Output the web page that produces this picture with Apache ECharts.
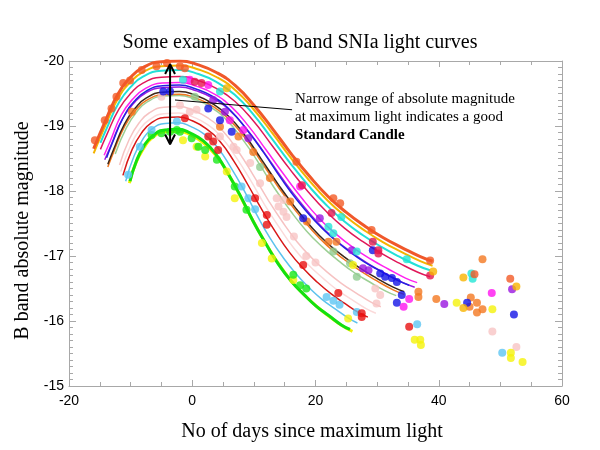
<!DOCTYPE html>
<html>
<head>
<meta charset="utf-8">
<script src="https://cdn.jsdelivr.net/npm/echarts@6/dist/echarts.min.js"></script>
<style>
html,body{margin:0;padding:0;background:#fff;}
#chart{width:600px;height:450px;}
</style>
</head>
<body>
<div id="chart"></div>
<script>
// ---- Axis ticks ----
const xTicks = [-20, 0, 20, 40, 60];
const yTicks = [-20, -19, -18, -17, -16, -15];

// ---- Fitted light curves [day, magnitude] ----
const curveOrangeRed = [[-16,-18.65],[-14,-19.1],[-12,-19.5],[-10,-19.75],[-8,-19.9],[-5,-19.99],[-2,-20],[1,-19.94],[4,-19.82],[7,-19.62],[10,-19.32],[13,-18.96],[16,-18.58],[19,-18.23],[22,-17.92],[25,-17.67],[28,-17.46],[31,-17.28],[34,-17.13],[37,-16.99],[39,-16.92]];
const curveGold = [[-16,-18.58],[-14,-19.03],[-12,-19.43],[-10,-19.68],[-8,-19.83],[-5,-19.92],[-2,-19.93],[1,-19.87],[4,-19.75],[7,-19.55],[10,-19.25],[13,-18.89],[16,-18.51],[19,-18.16],[22,-17.85],[25,-17.6],[28,-17.39],[31,-17.21],[34,-17.06],[37,-16.92],[39,-16.85]];
const curveCyan = [[-14.9,-18.74],[-13.9,-18.96],[-11.9,-19.36],[-9.9,-19.61],[-8,-19.76],[-5,-19.85],[-2,-19.86],[1,-19.8],[3.9,-19.68],[6.9,-19.48],[9.9,-19.18],[12.8,-18.82],[15.8,-18.44],[18.8,-18.09],[21.8,-17.78],[24.7,-17.53],[27.7,-17.32],[30.7,-17.14],[33.6,-16.99],[36.6,-16.85],[38.6,-16.78]];
const curveCrimson = [[-14.9,-18.64],[-13.9,-18.86],[-11.9,-19.26],[-9.9,-19.51],[-8,-19.66],[-5,-19.75],[-2,-19.76],[1,-19.7],[3.9,-19.58],[6.9,-19.38],[9.9,-19.08],[12.8,-18.72],[15.8,-18.34],[18.8,-17.99],[21.8,-17.68],[24.7,-17.43],[27.7,-17.22],[30.7,-17.04],[33.6,-16.89],[36.6,-16.75],[38.6,-16.68]];
const curveMagenta = [[-14.3,-18.55],[-13.3,-18.77],[-11.5,-19.17],[-9.6,-19.42],[-7.7,-19.57],[-4.9,-19.66],[-2.1,-19.67],[0.8,-19.61],[3.6,-19.49],[6.4,-19.29],[9.2,-18.99],[12,-18.63],[14.9,-18.25],[17.7,-17.9],[20.5,-17.59],[23.3,-17.34],[26.1,-17.13],[29,-16.95],[31.8,-16.8],[34.6,-16.66],[36.5,-16.59]];
const curveBlue = [[-13.9,-18.51],[-13,-18.73],[-11.2,-19.13],[-9.4,-19.38],[-7.6,-19.53],[-4.8,-19.62],[-2.1,-19.63],[0.6,-19.57],[3.4,-19.45],[6.1,-19.25],[8.8,-18.95],[11.6,-18.59],[14.3,-18.21],[17,-17.86],[19.8,-17.55],[22.5,-17.3],[25.2,-17.09],[27.9,-16.91],[30.7,-16.76],[33.4,-16.62],[35.2,-16.55]];
const curvePurple = [[-14.2,-18.48],[-13.2,-18.7],[-11.4,-19.1],[-9.5,-19.35],[-7.7,-19.5],[-4.9,-19.59],[-2.1,-19.6],[0.7,-19.54],[3.5,-19.42],[6.3,-19.22],[9.1,-18.92],[11.9,-18.56],[14.7,-18.18],[17.5,-17.83],[20.3,-17.52],[23,-17.27],[25.8,-17.06],[28.6,-16.88],[31.4,-16.73],[34.2,-16.59],[36.1,-16.52]];
const curveDark = [[-13.7,-18.41],[-12.8,-18.63],[-11,-19.03],[-9.2,-19.28],[-7.5,-19.43],[-4.8,-19.52],[-2.1,-19.53],[0.6,-19.47],[3.2,-19.35],[5.9,-19.15],[8.6,-18.85],[11.2,-18.49],[13.9,-18.11],[16.6,-17.76],[19.3,-17.45],[21.9,-17.2],[24.6,-16.99],[27.3,-16.81],[29.9,-16.66],[32.6,-16.52],[34.4,-16.45]];
const curveOrange = [[-13.7,-18.37],[-12.8,-18.59],[-11,-18.99],[-9.2,-19.24],[-7.5,-19.39],[-4.8,-19.48],[-2.1,-19.49],[0.6,-19.43],[3.2,-19.31],[5.9,-19.11],[8.6,-18.81],[11.2,-18.45],[13.9,-18.07],[16.6,-17.72],[19.3,-17.41],[21.9,-17.16],[24.6,-16.95],[27.3,-16.77],[29.9,-16.62],[32.6,-16.48],[34.4,-16.41]];
const curvePaleGreen = [[-12.5,-18.57],[-10.7,-18.97],[-9,-19.22],[-7.3,-19.37],[-4.7,-19.46],[-2.1,-19.47],[0.4,-19.41],[3,-19.29],[5.6,-19.09],[8.2,-18.79],[10.8,-18.43],[13.3,-18.05],[15.9,-17.7],[18.5,-17.39],[21.1,-17.14],[23.7,-16.93],[26.2,-16.75],[28.8,-16.6],[31.4,-16.46],[33.1,-16.39]];
const curvePink = [[-11.8,-18.4],[-10.2,-18.8],[-8.6,-19.05],[-7,-19.2],[-4.6,-19.29],[-2.2,-19.3],[0.2,-19.24],[2.6,-19.12],[5,-18.92],[7.4,-18.62],[9.8,-18.26],[12.2,-17.88],[14.6,-17.53],[17,-17.22],[19.4,-16.97],[21.8,-16.76],[24.2,-16.58],[26.6,-16.43],[29,-16.29],[30.6,-16.22]];
const curvePaleRose = [[-11.6,-18.3],[-10,-18.7],[-8.5,-18.95],[-6.9,-19.1],[-4.6,-19.19],[-2.2,-19.2],[0.1,-19.14],[2.5,-19.02],[4.8,-18.82],[7.1,-18.52],[9.5,-18.16],[11.8,-17.78],[14.2,-17.43],[16.5,-17.12],[18.8,-16.87],[21.2,-16.66],[23.5,-16.48],[25.9,-16.33],[28.2,-16.19],[29.8,-16.12]];
const curveRed = [[-11.25,-18.24],[-9.75,-18.64],[-8.25,-18.89],[-6.75,-19.04],[-4.5,-19.13],[-2.25,-19.14],[0,-19.08],[2.25,-18.96],[4.5,-18.76],[6.75,-18.46],[9,-18.1],[11.25,-17.72],[13.5,-17.37],[15.75,-17.06],[18,-16.81],[20.25,-16.6],[22.5,-16.42],[24.75,-16.27],[27,-16.13],[28.5,-16.06]];
const curveSky = [[-10.8,-18.15],[-9.4,-18.55],[-8,-18.8],[-6.6,-18.95],[-4.4,-19.04],[-2.3,-19.05],[-0.2,-18.99],[2,-18.87],[4.1,-18.67],[6.2,-18.37],[8.4,-18.01],[10.5,-17.63],[12.6,-17.28],[14.8,-16.97],[16.9,-16.72],[19,-16.51],[21.1,-16.33],[23.3,-16.18],[25.4,-16.04],[26.8,-15.97]];
const curveYellow = [[-10.2,-18.12],[-9.2,-18.42],[-7.8,-18.67],[-6.5,-18.82],[-4.4,-18.91],[-2.3,-18.92],[-0.2,-18.86],[1.8,-18.74],[3.9,-18.54],[6,-18.24],[8,-17.88],[10.1,-17.5],[12.2,-17.15],[14.3,-16.84],[16.3,-16.59],[18.4,-16.38],[20.5,-16.2],[22.5,-16.05],[24.6,-15.91],[26,-15.84]];
const curveGreen = [[-10.1,-18.15],[-9.1,-18.45],[-7.8,-18.7],[-6.4,-18.85],[-4.4,-18.94],[-2.3,-18.95],[-0.3,-18.89],[1.8,-18.77],[3.8,-18.57],[5.8,-18.27],[7.9,-17.91],[9.9,-17.53],[12,-17.18],[14,-16.87],[16,-16.62],[18.1,-16.41],[20.1,-16.23],[22.2,-16.08],[24.2,-15.94],[25.6,-15.87]];

// ---- Observed points [day, magnitude] ----
const dotsOrangeRed = [[-15.8,-18.78],[-14.2,-19.09],[-13.1,-19.27],[-12.3,-19.45],[-11.2,-19.66],[-10.1,-19.7],[-8.2,-19.86],[-5.8,-19.92],[-4.1,-19.97],[-2.0,-19.92],[-1.2,-19.89],[16.9,-18.45],[22.9,-17.89],[24.0,-17.81],[29.1,-17.4],[38.6,-16.93],[45.8,-16.72],[51.6,-16.65]];
const dotsGold = [[5.6,-19.58],[39.1,-16.76],[44.0,-16.67],[52.6,-16.53],[44.0,-16.2]];
const dotsCyan = [[-1.5,-19.71],[4.5,-19.53],[22.1,-17.45],[22.9,-17.35],[24.2,-17.6],[26.7,-17.07],[34.8,-16.95],[45.3,-16.73],[45.5,-16.65]];
const dotsCrimson = [[0.4,-19.68],[1.5,-19.66],[17.8,-18.09],[22.6,-17.66],[29.3,-17.22],[30.2,-17.09],[30.2,-17.04],[38.6,-16.7]];
const dotsMagenta = [[-0.4,-19.71],[2.6,-19.63],[6.1,-19.09],[8.3,-18.94],[17.5,-18.07],[35.2,-16.34],[34.3,-16.22],[48.6,-16.43]];
const dotsBlue = [[-4.7,-19.53],[-3.6,-19.53],[2.6,-19.27],[4.5,-19.09],[6.4,-18.91],[18.0,-17.58],[29.3,-17.09],[30.5,-16.73],[31.3,-16.68],[32.4,-16.66],[33.2,-16.6],[34.0,-16.4],[33.2,-16.28],[44.6,-16.28],[52.2,-16.1]];
const dotsPurple = [[3.4,-19.4],[5.3,-19.22],[9.1,-18.81],[20.7,-17.58],[25.9,-17.09],[27.7,-16.81],[28.6,-16.78],[40.9,-16.26],[51.9,-16.49]];
const dotsOrange = [[-9.8,-19.22],[4.5,-18.99],[7.5,-18.84],[9.9,-18.6],[12.6,-18.2],[15.9,-17.84],[18.6,-17.53],[22.1,-17.22],[23.4,-17.22],[36.7,-16.45],[36.7,-16.37],[39.6,-16.34],[47.1,-16.95],[45.2,-16.36],[46.2,-16.28],[45.0,-16.22],[46.2,-16.13],[47.1,-16.18]];
const dotsPaleGreen = [[0.4,-19.45],[11.0,-18.37],[22.9,-17.07],[25.6,-16.89],[26.7,-16.68]];
const dotsPink = [[-5.0,-19.45],[-2.0,-19.32],[-0.4,-19.22],[0.7,-19.25],[4.5,-18.84],[6.7,-18.68],[7.2,-18.63],[9.4,-18.43],[11.0,-18.12],[13.7,-17.89],[14.8,-17.86],[14.8,-17.68],[14.0,-17.76],[15.3,-17.6],[16.5,-17.3],[18.5,-17.0],[20.0,-16.9],[29.7,-16.5],[30.5,-16.4],[29.9,-16.27],[48.7,-15.84],[52.6,-15.6]];
const dotsRed = [[-1.2,-19.12],[2.6,-18.84],[3.4,-18.76],[4.2,-18.63],[10.2,-17.89],[12.1,-17.63],[12.1,-17.48],[18.0,-16.86],[23.7,-16.43],[27.5,-16.12],[27.5,-16.06],[35.2,-15.91]];
const dotsSky = [[-10.4,-18.25],[-8.5,-18.68],[-6.6,-18.94],[-2.5,-19.07],[8.0,-18.07],[9.1,-17.89],[10.2,-17.72],[21.8,-16.37],[22.9,-16.31],[23.9,-16.25],[26.7,-16.14],[36.5,-15.95],[50.3,-15.51]];
const dotsGreen = [[-6.6,-18.86],[-5.0,-18.89],[-3.6,-18.91],[-2.5,-18.94],[-2.0,-18.91],[-0.1,-18.81],[1.0,-18.68],[2.1,-18.63],[4.0,-18.48],[6.9,-18.07],[8.8,-17.71],[16.4,-16.71],[17.5,-16.55],[18.5,-16.5]];
const dotsYellow = [[-1.5,-18.78],[0.7,-18.68],[2.1,-18.53],[5.6,-18.3],[6.9,-17.89],[11.3,-17.2],[12.9,-16.96],[16.4,-16.63],[25.3,-16.04],[26.1,-16.86],[36.1,-15.71],[37.0,-15.71],[37.1,-15.63],[42.9,-16.28],[48.7,-16.18],[51.7,-15.51],[51.7,-15.43],[53.6,-15.37]];

// ---- Annotation geometry (data coordinates) ----
const arrowShaft = [[-3.6,-19.95],[-3.6,-18.72]];
const arrowHeadTop = [[-4.4,-19.8],[-3.6,-19.95],[-2.8,-19.8]];
const arrowHeadBottom = [[-4.4,-18.87],[-3.6,-18.72],[-2.8,-18.87]];
const pointerLine = [[-2.8,-19.4],[16.2,-19.25]];

// ---- Styling table ----
const curves = [
  {d: curvePaleRose, c: '#fbdada', w: 1.5},
  {d: curvePink, c: '#f6c2c2', w: 1.5},
  {d: curvePaleGreen, c: '#9ccf94', w: 1.5},
  {d: curveYellow, c: '#f2f000', w: 3},
  {d: curveGreen, c: '#12e012', w: 3},
  {d: curveSky, c: '#5cc2ee', w: 1.5},
  {d: curveRed, c: '#d81818', w: 1.5},
  {d: curveOrange, c: '#f07820', w: 1.5},
  {d: curveDark, c: '#3c2618', w: 1.5},
  {d: curvePurple, c: '#9a18e0', w: 1.5},
  {d: curveBlue, c: '#2424e0', w: 1.5},
  {d: curveMagenta, c: '#ff20f0', w: 1.5},
  {d: curveCrimson, c: '#e0185a', w: 1.5},
  {d: curveCyan, c: '#22e0d8', w: 2},
  {d: curveGold, c: '#f4b400', w: 2},
  {d: curveOrangeRed, c: '#f0582a', w: 3}
];
const dots = [
  {d: dotsPink, c: '#f8c4c4'},
  {d: dotsPaleGreen, c: '#90cc90'},
  {d: dotsYellow, c: '#f5f20a'},
  {d: dotsGreen, c: '#18e818'},
  {d: dotsSky, c: '#5ec6f2'},
  {d: dotsRed, c: '#e81010'},
  {d: dotsOrange, c: '#f47820'},
  {d: dotsPurple, c: '#9a16e0'},
  {d: dotsBlue, c: '#1414e6'},
  {d: dotsMagenta, c: '#ff14f0'},
  {d: dotsCrimson, c: '#e5164e'},
  {d: dotsCyan, c: '#22e6d6'},
  {d: dotsGold, c: '#f8b400'},
  {d: dotsOrangeRed, c: '#f25a26'}
];

const axisGray = '#a8a8a8';
const sans = '"Liberation Sans", Arial, sans-serif';
const serif = '"Liberation Serif", "Times New Roman", serif';

const series = [];
curves.forEach(function (k) {
  series.push({type: 'line', data: k.d, smooth: true, showSymbol: false, silent: true,
    lineStyle: {color: k.c, width: k.w}, z: 2});
});
dots.forEach(function (k) {
  series.push({type: 'scatter', data: k.d, symbol: 'circle', symbolSize: 8,
    itemStyle: {color: k.c}, z: 3});
});
[arrowShaft, arrowHeadTop, arrowHeadBottom].forEach(function (a) {
  series.push({type: 'line', data: a, showSymbol: false, silent: true,
    lineStyle: {color: '#000', width: 2}, z: 5});
});
series.push({type: 'line', data: pointerLine, showSymbol: false, silent: true,
  lineStyle: {color: '#000', width: 1}, z: 5});

function xAxisDef(pos, showLabel) {
  return {
    type: 'value', position: pos, min: xTicks[0], max: xTicks[xTicks.length-1],
    interval: xTicks[1]-xTicks[0],
    axisLine: {show: true, onZero: false, lineStyle: {color: axisGray, width: 1}},
    axisTick: {show: true, inside: true, length: 6, lineStyle: {color: axisGray}},
    minorTick: {show: true, splitNumber: 4, length: 4, lineStyle: {color: axisGray}},
    splitLine: {show: false},
    axisLabel: {show: showLabel, color: '#000', fontSize: 14, fontFamily: sans, margin: 8}
  };
}
function yAxisDef(pos, showLabel) {
  return {
    type: 'value', position: pos, inverse: true, min: yTicks[0], max: yTicks[yTicks.length-1],
    interval: yTicks[1]-yTicks[0],
    axisLine: {show: true, onZero: false, lineStyle: {color: axisGray, width: 1}},
    axisTick: {show: true, inside: true, length: 7, lineStyle: {color: axisGray}},
    minorTick: {show: true, splitNumber: 10, length: 4, lineStyle: {color: axisGray}},
    splitLine: {show: false},
    axisLabel: {show: showLabel, color: '#000', fontSize: 14, fontFamily: sans, margin: 5}
  };
}

const xMain = xAxisDef('bottom', true);
xMain.name = 'No of days since maximum light';
xMain.nameLocation = 'middle';
xMain.nameGap = 36;
xMain.nameTextStyle = {color: '#000', fontSize: 20, fontFamily: serif, padding: [0, 7, 0, 0]};
const yMain = yAxisDef('left', true);
yMain.name = 'B band absolute magnitude';
yMain.nameLocation = 'middle';
yMain.nameGap = 27;
yMain.nameTextStyle = {color: '#000', fontSize: 20, fontFamily: serif, padding: [0, 14, 0, 0]};

const chart = echarts.init(document.getElementById('chart'), null, {renderer: 'canvas'});
chart.setOption({
  backgroundColor: '#fff',
  animation: false,
  title: {
    text: 'Some examples of B band SNIa light curves',
    left: 'center', top: 28,
    textStyle: {color: '#000', fontSize: 20, fontWeight: 'normal', fontFamily: serif}
  },
  grid: {left: 69, right: 38, top: 61, bottom: 64, containLabel: false},
  xAxis: [xMain, xAxisDef('top', false)],
  yAxis: [yMain, yAxisDef('right', false)],
  graphic: [{
    type: 'text', left: 295, top: 90, z: 10,
    style: {
      text: 'Narrow range of absolute magnitude\nat maximum light indicates a good\n{b|Standard Candle}',
      font: '15px "Liberation Serif", "Times New Roman", serif',
      fill: '#000', lineHeight: 18,
      rich: {b: {fontWeight: 'bold', fontSize: 15, fontFamily: serif, lineHeight: 18}}
    }
  }],
  series: series
});
</script>
</body>
</html>
